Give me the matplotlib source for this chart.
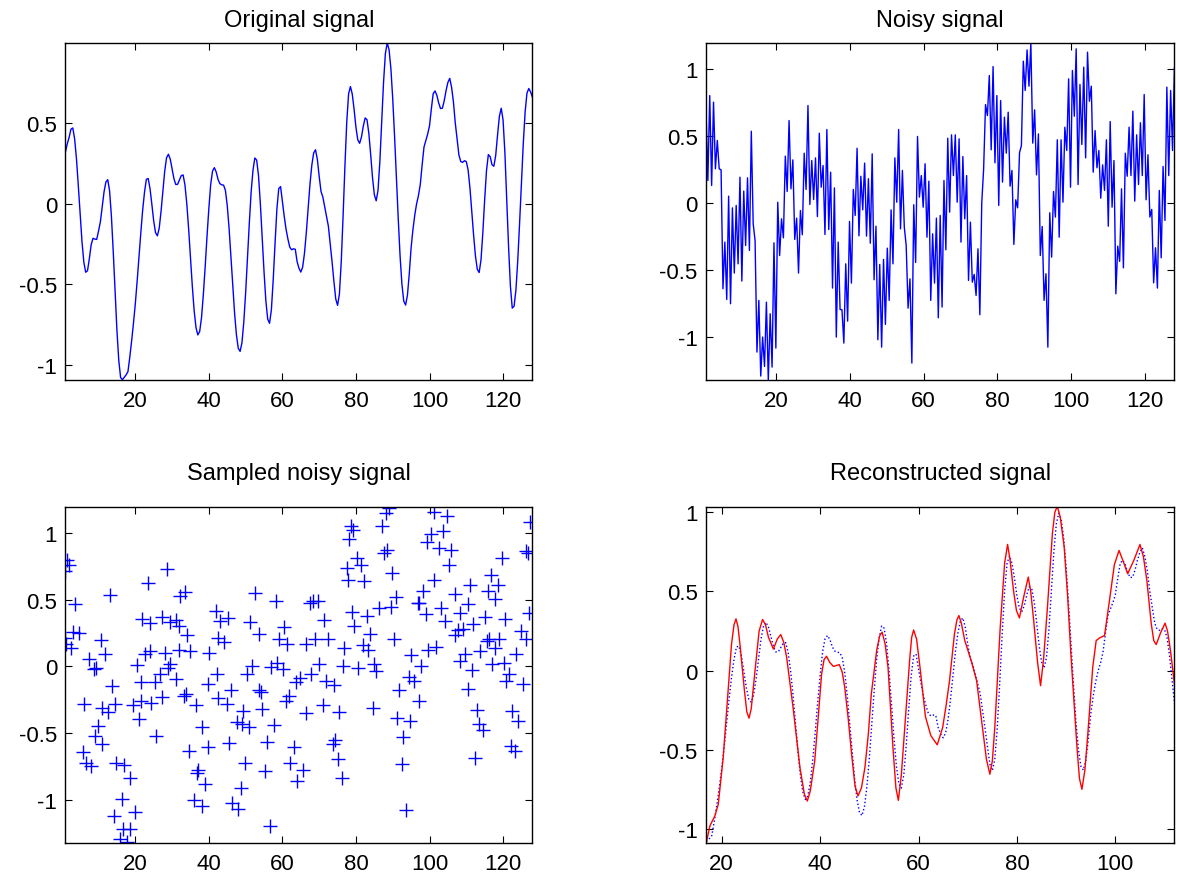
import numpy as np
import matplotlib
matplotlib.use('Agg')
import matplotlib.pyplot as plt

plt.rcParams['font.family'] = ['Liberation Sans', 'DejaVu Sans']
plt.rcParams['axes.unicode_minus'] = False

# original signal, read at x = 1, 1.5, 2, ..., 128
original = [
    0.32, 0.37, 0.41, 0.46, 0.468, 0.40, 0.277, 0.11, -0.068, -0.236,
    -0.362, -0.425, -0.416, -0.341, -0.254, -0.215, -0.22, -0.222, -0.17, -0.113,
    -0.018, 0.073, 0.133, 0.148, 0.079, -0.078, -0.298, -0.547, -0.784, -0.97,
    -1.077, -1.09, -1.075, -1.06, -1.04, -0.95, -0.85, -0.74, -0.62, -0.48,
    -0.33, -0.18, -0.04, 0.07, 0.15, 0.155, 0.092, -0.005, -0.108, -0.18,
    -0.2, -0.152, -0.048, 0.079, 0.202, 0.284, 0.305, 0.275, 0.216, 0.154,
    0.118, 0.119, 0.146, 0.173, 0.177, 0.115, -0.001, -0.157, -0.337, -0.511,
    -0.663, -0.767, -0.813, -0.792, -0.707, -0.563, -0.39, -0.202, -0.03, 0.119,
    0.201, 0.222, 0.195, 0.149, 0.123, 0.116, 0.114, 0.082, -0.012, -0.154,
    -0.329, -0.51, -0.68, -0.814, -0.896, -0.915, -0.861, -0.733, -0.553, -0.338,
    -0.121, 0.073, 0.207, 0.282, 0.269, 0.173, 0.0, -0.207, -0.421, -0.602,
    -0.715, -0.741, -0.658, -0.471, -0.245, -0.034, 0.092, 0.105, 0.01, -0.08,
    -0.16, -0.22, -0.27, -0.286, -0.28, -0.283, -0.36, -0.40, -0.424, -0.394,
    -0.308, -0.18, -0.03, 0.121, 0.238, 0.313, 0.333, 0.274, 0.168, 0.075,
    0.04, -0.02, -0.08, -0.14, -0.25, -0.36, -0.48, -0.59, -0.63, -0.56,
    -0.36, -0.077, 0.232, 0.506, 0.68, 0.724, 0.677, 0.582, 0.471, 0.394,
    0.373, 0.412, 0.48, 0.53, 0.519, 0.435, 0.304, 0.161, 0.055, 0.017,
    0.082, 0.261, 0.506, 0.75, 0.928, 0.994, 0.953, 0.835, 0.648, 0.416,
    0.156, -0.094, -0.326, -0.50, -0.604, -0.628, -0.567, -0.434, -0.273, -0.16,
    -0.07, 0.0, 0.05, 0.12, 0.24, 0.35, 0.39, 0.43, 0.481, 0.586,
    0.68, 0.697, 0.67, 0.622, 0.588, 0.59, 0.636, 0.699, 0.75, 0.775,
    0.72, 0.63, 0.5, 0.4, 0.3, 0.26, 0.255, 0.265, 0.26, 0.208,
    0.096, -0.048, -0.198, -0.326, -0.407, -0.427, -0.349, -0.18, 0.024, 0.204,
    0.303, 0.29, 0.24, 0.231, 0.298, 0.423, 0.54, 0.59, 0.518, 0.315,
    0.03, -0.268, -0.511, -0.647, -0.635, -0.535, -0.351, -0.12, 0.132, 0.372,
    0.567, 0.683, 0.712, 0.69, 0.657,
]

# noisy signal, evenly spaced over 1..128
noisy = [
    0.716, 0.169, 0.803, 0.132, 0.754, 0.256, 0.468, 0.256, 0.249, -0.639,
    -0.291, -0.719, 0.052, -0.751, -0.035, -0.522, -0.017, -0.453, 0.194, -0.582,
    0.090, -0.316, 0.189, -0.353, 0.537, -0.154, -0.279, -1.112, -0.726, -1.291,
    -1.0, -1.219, -0.739, -1.323, -0.826, -1.224, -0.296, -1.082, 0.007, -0.391,
    -0.117, -0.259, 0.351, 0.087, 0.617, 0.107, 0.323, -0.271, -0.112, -0.522,
    -0.055, -0.236, 0.373, 0.102, 0.729, -0.010, 0.318, 0.027, 0.338, -0.100,
    0.522, 0.119, 0.281, -0.234, 0.550, -0.197, 0.231, -0.634, 0.114, -1.0,
    -0.291, -0.794, -0.796, -1.045, -0.453, -0.881, -0.137, -0.597, 0.102, -0.092,
    0.410, -0.244, 0.201, -0.050, 0.299,
    -0.246, 0.182, -0.299, 0.368, -0.572, -0.172, -1.020, -0.458, -1.075, -0.420,
    -0.905, -0.336, -0.726, -0.050, -0.453, 0.338, 0.007, 0.550, -0.192, 0.244,
    -0.179, -0.316, -0.784, -0.565, -1.194, -0.012, -0.443, 0.498, 0.045, 0.206,
    -0.030, 0.294, -0.254, 0.164, -0.726, -0.229, -0.597, -0.112, -0.856, -0.092,
    -0.776, 0.169, -0.348, 0.485, -0.067, 0.510, 0.206, 0.510, 0.007, 0.480,
    -0.291, 0.348, -0.117, 0.206, -0.577, -0.142, -0.590, -0.532, -0.689, -0.341,
    -0.833, 0.0, 0.256, 0.736, 0.654, 0.953, 0.398, 1.020, 0.301, 0.803,
    -0.017, 0.766, 0.157, 0.642, 0.373, 0.679, 0.127, 0.244, -0.308, 0.025,
    -0.035, 0.376, 0.430, 1.060, 0.841, 1.144, 0.873, 1.194, 0.448, 0.697,
    0.211, 0.517, -0.391, -0.174, -0.726, -0.527, -1.075, -0.072, -0.403, 0.087,
    -0.104, 0.473, -0.254, 0.473, 0.007, 0.567, 0.393, 0.928, 0.119, 0.990,
    0.649, 1.152, 0.139, 0.886, 0.438, 1.015, 0.338, 1.127, 0.761, 0.873,
    0.231, 0.542, 0.264, 0.393, 0.037, 0.286, 0.095, 0.473, -0.172, 0.609,
    -0.030, 0.318, -0.677, -0.321, -0.435, 0.107, -0.483, 0.373, 0.201, 0.567,
    0.206, 0.687, 0.015, 0.510, 0.139, 0.600, 0.206, 0.811, 0.025, 0.361,
    -0.104, -0.047, -0.595, -0.333, -0.634, 0.095, -0.408, 0.274, -0.129, 0.866,
    0.206, 0.841, 0.393, 1.010,
]

# sampled points of the noisy signal
sample_x = [
    1.36, 2.09, 1.0, 3.73, 13.18, 28.64, 23.45, 32.27, 33.45, 41.82,
    43.0, 1.0, 3.0, 4.64, 1.18, 2.55, 10.73, 11.64, 7.36, 8.73,
    9.36, 21.91, 23.91, 27.36, 29.55, 31.0, 31.91, 34.18, 22.55, 23.91,
    28.0, 31.82, 35.0, 40.0, 42.55, 20.55, 29.55, 28.91, 26.64, 31.18,
    21.45, 25.27, 39.64, 42.27, 13.73, 6.18, 11.0, 12.55, 14.36, 19.36,
    21.64, 24.36, 27.36, 33.18, 33.73, 36.45, 42.55, 21.0, 9.82, 8.91,
    10.91, 25.73, 38.18, 39.64, 5.91, 6.64, 8.0, 14.82, 16.82, 18.64,
    34.55, 36.82, 37.09, 38.91, 16.45, 14.18, 19.82, 16.64, 18.64, 15.73,
    17.73, 36.0, 38.18,
    45.18, 44.09, 44.82, 52.45, 58.18, 68.45, 67.55, 69.55, 51.18, 53.64,
    60.45, 59.09, 61.36, 66.55, 68.82, 72.27, 71.18, 78.91, 79.55, 83.0,
    76.82, 81.82, 78.64, 79.09, 78.18, 80.18, 81.36, 77.55, 77.91, 82.09,
    51.82, 50.27, 56.82, 58.64, 60.27, 63.64, 64.82, 67.73, 69.82, 71.82,
    74.09, 76.36, 80.45, 46.09, 53.64, 54.09, 54.55, 61.82, 60.91, 66.55,
    70.91, 75.27, 49.36, 47.73, 48.91, 50.91, 57.73, 45.45, 55.91, 63.18,
    73.64, 74.27, 49.82, 55.18, 62.09, 65.64, 64.09, 75.0, 76.09, 48.64,
    46.36, 47.91, 56.55,
    88.99, 88.07, 86.97, 87.61, 88.53, 89.91, 101.19, 104.86, 100.46, 103.67,
    99.36, 102.48, 105.78, 105.23, 101.19, 119.72, 126.15, 126.79, 127.34, 116.79,
    118.62, 111.01, 98.17, 115.87, 117.89, 106.88, 110.37, 90.83, 89.45, 86.24,
    96.79, 97.25, 99.08, 103.03, 108.26, 104.31, 111.93, 115.14, 120.64, 127.06,
    106.88, 107.8, 109.17, 124.77, 126.15, 83.94, 90.37, 116.06, 118.99, 115.6,
    117.89, 83.21, 99.54, 101.83, 94.95, 97.71, 113.76, 109.63, 108.26, 111.47,
    123.58, 116.97, 120.18, 121.56, 120.83, 125.5, 84.86, 85.32, 94.5, 95.69,
    91.74, 110.55, 97.06, 84.59, 112.84, 122.48, 124.13, 91.28, 94.77, 92.84,
    113.49, 114.68, 122.2, 123.21, 112.39, 92.39, 93.58,
]
sample_y = [
    0.800, 0.758, 0.718, 0.469, 0.539, 0.733, 0.626, 0.526, 0.556, 0.414,
    0.339, 0.214, 0.259, 0.252, 0.172, 0.140, 0.197, 0.095, 0.057, -0.022,
    -0.010, 0.357, 0.327, 0.374, 0.334, 0.352, 0.302, 0.234, 0.090, 0.115,
    0.102, 0.127, 0.115, 0.102, 0.214, 0.010, 0.015, -0.010, -0.055, -0.092,
    -0.115, -0.115, -0.135, -0.060, -0.147, -0.284, -0.309, -0.342, -0.279, -0.289,
    -0.259, -0.272, -0.229, -0.222, -0.204, -0.289, -0.239, -0.397, -0.446, -0.521,
    -0.579, -0.521, -0.451, -0.601, -0.641, -0.721, -0.746, -0.721, -0.738, -0.833,
    -0.633, -0.796, -0.778, -0.883, -0.995, -1.120, -1.090, -1.219, -1.219, -1.294,
    -1.319, -1.002, -1.045,
    0.364, 0.182, -0.284, 0.551, 0.494, 0.489, 0.476, 0.489, 0.334, 0.244,
    0.294, 0.209, 0.165, 0.170, 0.209, 0.209, 0.352, 0.409, 0.307, 0.377,
    0.140, 0.160, 1.050, 1.020, 0.955, 0.813, 0.763, 0.738, 0.651, 0.643,
    0.002, -0.060, -0.005, 0.027, -0.022, -0.115, -0.090, -0.060, 0.015, -0.110,
    -0.142, 0.002, -0.015, -0.177, -0.180, -0.190, -0.317, -0.222, -0.259, -0.352,
    -0.289, -0.342, -0.334, -0.416, -0.434, -0.454, -0.439, -0.571, -0.564, -0.601,
    -0.579, -0.554, -0.721, -0.783, -0.721, -0.778, -0.858, -0.691, -0.838, -0.908,
    -1.027, -1.070, -1.195,
    1.190, 1.150, 1.057, 0.850, 0.875, 0.701, 1.162, 1.125, 0.993, 1.017,
    0.933, 0.888, 0.875, 0.763, 0.651, 0.813, 0.868, 0.850, 1.087, 0.688,
    0.608, 0.613, 0.564, 0.569, 0.509, 0.544, 0.469, 0.519, 0.444, 0.439,
    0.476, 0.476, 0.394, 0.439, 0.401, 0.344, 0.319, 0.369, 0.359, 0.401,
    0.239, 0.277, 0.282, 0.269, 0.209, 0.244, 0.209, 0.209, 0.209, 0.190,
    0.140, 0.127, 0.120, 0.145, 0.085, 0.002, 0.115, 0.090, 0.040, -0.030,
    0.090, 0.015, 0.027, -0.060, -0.110, -0.130, 0.020, -0.035, -0.080, -0.110,
    -0.180, -0.172, -0.259, -0.309, -0.329, -0.334, -0.409, -0.389, -0.409, -0.529,
    -0.434, -0.479, -0.596, -0.633, -0.683, -0.728, -1.077,
]

# reconstructed signal
recon_x = [
    16.82, 17.6, 18.6, 19.3, 20.3, 21.15, 22.0, 22.5, 22.9, 23.3,
    23.7, 24.6, 25.1, 25.55, 26.0, 26.77, 27.6, 28.3, 28.9, 29.5,
    30.5, 31.3, 32.0, 32.6, 33.2, 34.5, 35.9, 36.8, 37.4, 38.0,
    38.9, 39.6, 40.3, 40.8, 41.3, 42.0, 42.7, 43.9, 44.5, 45.0,
    45.7, 46.4, 47.1, 47.7, 48.4, 49.1, 49.8, 50.4, 51.5, 52.1,
    52.6, 53.2, 53.8, 54.8, 55.4, 55.9, 56.5, 57.2, 58.2, 58.6,
    59.0, 59.6, 60.3, 61.4, 62.5, 63.8, 64.9, 65.6, 66.3, 67.3,
    67.8, 68.2, 68.7, 69.4, 70.8, 71.8, 73.0, 73.8, 74.5, 75.0,
    75.5, 76.6, 77.5, 78.1, 78.6, 79.3, 79.9, 80.5, 81.4, 82.3,
    82.8, 83.4, 84.2, 84.8, 85.4, 86.2, 87.2, 87.7, 88.2, 88.8,
    89.6, 90.3, 90.96, 92.2, 92.7, 93.2, 93.8, 94.4, 95.4, 96.1,
    96.8, 97.8, 98.8, 99.8, 100.75, 101.6, 102.5, 103.8, 105.0, 105.7,
    106.4, 107.3, 107.8, 108.3, 109.2, 110.1, 110.6, 111.2, 112.05,
]
recon_y = [
    -1.093, -0.98, -0.918, -0.844, -0.549, -0.19, 0.169, 0.29, 0.327, 0.28,
    0.169, -0.12, -0.26, -0.30, -0.24, 0.0, 0.25, 0.323, 0.29, 0.211,
    0.137, 0.2, 0.228, 0.18, 0.084, -0.232, -0.612, -0.78, -0.823, -0.76,
    -0.570, -0.3, -0.021, 0.07, 0.091, 0.05, 0.027, 0.038, -0.01, -0.105,
    -0.3, -0.527, -0.73, -0.791, -0.74, -0.612, -0.4, -0.148, 0.13, 0.22,
    0.243, 0.17, 0.021, -0.485, -0.74, -0.819, -0.66, -0.359, 0.07, 0.21,
    0.257, 0.2, 0.021, -0.29, -0.41, -0.468, -0.359, -0.22, -0.063, 0.232,
    0.32, 0.348, 0.3, 0.19, 0.053, -0.063, -0.359, -0.56, -0.654, -0.57,
    -0.359, 0.274, 0.68, 0.797, 0.7, 0.506, 0.38, 0.333, 0.47, 0.591,
    0.5, 0.316, 0.05, -0.095, 0.07, 0.401, 0.865, 1.0, 1.038, 0.97,
    0.781, 0.47, 0.105, -0.485, -0.68, -0.749, -0.63, -0.401, 0.021, 0.19,
    0.207, 0.222, 0.443, 0.67, 0.759, 0.69, 0.612, 0.7, 0.797, 0.72,
    0.57, 0.295, 0.19, 0.165, 0.24, 0.30, 0.25, 0.127, -0.095,
]

x_orig = np.linspace(1, 128, len(original))
x_noisy = np.linspace(1, 128, len(noisy))

fig = plt.figure(figsize=(11.77, 8.79), dpi=100)
ax1 = fig.add_axes([0.0556, 0.566, 0.3968, 0.384])
ax2 = fig.add_axes([0.5998, 0.566, 0.398, 0.384])
ax3 = fig.add_axes([0.0556, 0.0395, 0.3968, 0.383])
ax4 = fig.add_axes([0.5998, 0.0395, 0.398, 0.383])

ax1.plot(x_orig, original, color='blue', lw=1.0)
ax1.set_xlim(1, 128)
ax1.set_ylim(-1.095, 0.994)
ax1.set_yticks([-1, -0.5, 0, 0.5])

ax2.plot(x_noisy, noisy, color='blue', lw=1.0)
ax2.set_xlim(1, 128)
ax2.set_ylim(-1.324, 1.196)
ax2.set_yticks([-1, -0.5, 0, 0.5, 1])

ax3.plot(sample_x, sample_y, linestyle='none', marker='+', color='blue',
         markersize=10, markeredgewidth=1.0)
ax3.set_xlim(1, 128)
ax3.set_ylim(-1.326, 1.199)
ax3.set_yticks([-1, -0.5, 0, 0.5, 1])

ax4.plot(x_orig, original, color='blue', lw=1.0, linestyle=':')
ax4.plot(recon_x, recon_y, color='red', lw=1.0)
ax4.set_xlim(16.8, 112)
ax4.set_ylim(-1.09, 1.036)
ax4.set_xticks([20, 40, 60, 80, 100])
ax4.set_yticks([-1, -0.5, 0, 0.5, 1])

for ax in [ax1, ax2, ax3]:
    ax.set_xticks([20, 40, 60, 80, 100, 120])

ax1.set_title('Original signal', fontsize=17, pad=12)
ax2.set_title('Noisy signal', fontsize=17, pad=12)
ax3.set_title('Sampled noisy signal', fontsize=17, pad=20)
ax4.set_title('Reconstructed signal', fontsize=17, pad=20)

for ax in [ax1, ax2, ax3, ax4]:
    ax.tick_params(direction='in', top=True, right=True, length=5,
                   width=0.8, labelsize=16)
    ax.tick_params(axis='x', pad=7)
    ax.tick_params(axis='y', pad=6)
    ax.yaxis.set_major_formatter(matplotlib.ticker.FormatStrFormatter('%g'))
    for sp in ax.spines.values():
        sp.set_linewidth(1.0)

fig.savefig('out.png', dpi=100)
